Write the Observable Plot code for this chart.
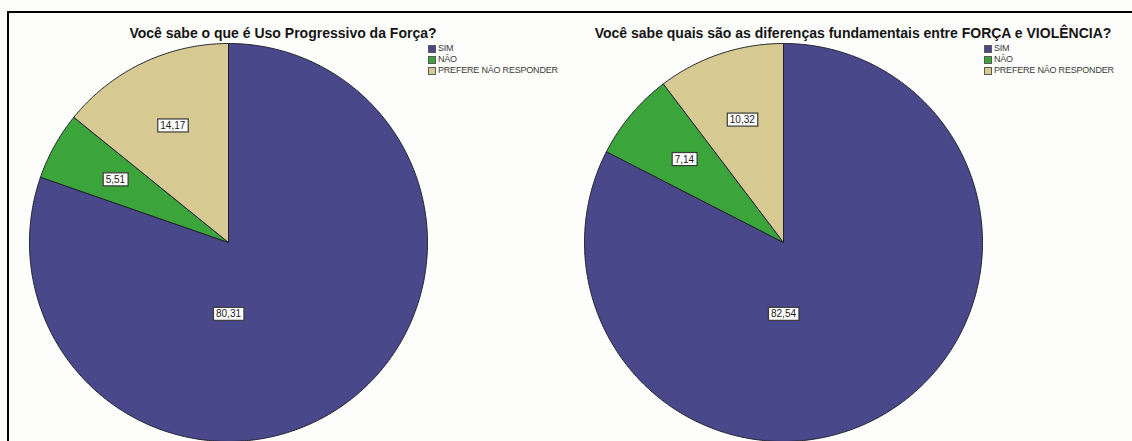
<!DOCTYPE html>
<html><head><meta charset="utf-8">
<script src="https://cdn.jsdelivr.net/npm/d3@7"></script>
<script src="https://cdn.jsdelivr.net/npm/@observablehq/plot@0.6"></script>
<style>
html,body{margin:0;padding:0;background:#fdfdfb;overflow:hidden;}
#wrap{position:relative;width:1132px;height:441px;overflow:hidden;font-family:"Liberation Sans",Arial,sans-serif;background:#fdfdfb;}
#frame{position:absolute;left:7px;top:11px;width:1200px;height:500px;border-left:2px solid #000;border-top:2px solid #000;pointer-events:none;}
#chart{position:absolute;left:0;top:0;}
.title{position:absolute;top:25px;font-weight:bold;font-size:14px;color:#151515;white-space:nowrap;transform:translateX(-50%);}
.legend{position:absolute;top:43px;font-size:9px;color:#3a3a3a;line-height:11px;letter-spacing:-0.2px;}
.legend .row{display:flex;align-items:center;height:11px;}
.legend .sw{width:8px;height:8px;border:1px solid #5a5a5a;margin-right:2px;box-sizing:border-box;}
</style>
</head><body>
<div id="wrap"><div id="chart"></div><div id="frame"></div></div>
<script>
// ---- data ----
const categories = ["SIM", "NÃO", "PREFERE NÃO RESPONDER"];
const questions = [
  "Você sabe o que é Uso Progressivo da Força?",
  "Você sabe quais são as diferenças fundamentais entre FORÇA e VIOLÊNCIA?"
];
const valuesQ1 = [80.31, 5.51, 14.17];
const valuesQ2 = [82.54, 7.14, 10.32];
const colors = ["#48488a", "#3ba53b", "#d6ca92"];

// ---- layout constants ----
const W = 1132, H = 441;
const R = 199;                     // pie radius in pixels
const CX0 = 228, CY = 242;         // first pie centre in pixels
const PIE_GAP = 555;               // distance between pie centres in pixels
const titleCenters = [283, 853];
const legendLefts = [428, 984];

const series = [valuesQ1, valuesQ2];
const offset = PIE_GAP / R;        // in x data units

// build slice polygons from the values
const slicePts = [];
const labels = [];
series.forEach((vals, qi) => {
  const total = d3.sum(vals);
  let acc = 0;
  const maxIdx = d3.maxIndex(vals);
  vals.forEach((v, ci) => {
    const a0 = acc / total * 2 * Math.PI;
    acc += v;
    const a1 = acc / total * 2 * Math.PI;
    const key = qi + "-" + ci;
    const ox = qi * offset;
    slicePts.push({key, cat: categories[ci], x: ox, y: 0});
    const n = Math.max(2, Math.ceil((a1 - a0) / (Math.PI / 360)));
    for (let k = 0; k <= n; k++) {
      const a = a0 + (a1 - a0) * k / n;
      slicePts.push({key, cat: categories[ci], x: ox + Math.sin(a), y: Math.cos(a)});
    }
    slicePts.push({key, cat: categories[ci], x: ox, y: 0});
    // label position
    let am = (a0 + a1) / 2, r = 0.65;
    if (ci === maxIdx) { am = Math.PI; r = 0.36; }
    labels.push({x: ox + r * Math.sin(am), y: r * Math.cos(am), text: v.toFixed(2).replace(".", ",")});
  });
});

const plot = Plot.plot({
  width: W, height: H,
  marginTop: 0, marginBottom: 0, marginLeft: 0, marginRight: 0,
  x: {domain: [-CX0 / R, (W - CX0) / R], axis: null},
  y: {domain: [-(H - CY) / R, CY / R], axis: null},
  color: {domain: categories, range: colors},
  style: {background: "transparent", overflow: "hidden"},
  marks: [
    Plot.line(slicePts, {x: "x", y: "y", z: "key", fill: "cat", stroke: "#22222e", strokeWidth: 1, curve: "linear"}),
    Plot.text(labels, {x: "x", y: "y", text: "text", fontSize: 10, fill: "#1a1a1a", fontFamily: "Liberation Sans, Arial, sans-serif", className: "vlabel"})
  ]
});
document.getElementById("chart").appendChild(plot);

// boxes behind value labels
plot.querySelectorAll(".vlabel text").forEach(t => {
  const b = t.getBBox();
  const rect = document.createElementNS("http://www.w3.org/2000/svg", "rect");
  rect.setAttribute("x", b.x - 2.5);
  rect.setAttribute("y", b.y - 1);
  rect.setAttribute("width", b.width + 5);
  rect.setAttribute("height", b.height + 2);
  rect.setAttribute("fill", "#ffffff");
  rect.setAttribute("stroke", "#3a3a3a");
  rect.setAttribute("stroke-width", "1.2");
  const tr = t.getAttribute("transform");
  if (tr) rect.setAttribute("transform", tr);
  t.parentNode.insertBefore(rect, t);
});

// titles and legends
const wrap = document.getElementById("wrap");
questions.forEach((q, i) => {
  const d = document.createElement("div");
  d.className = "title";
  d.style.left = titleCenters[i] + "px";
  d.textContent = q;
  wrap.appendChild(d);
  const lg = document.createElement("div");
  lg.className = "legend";
  lg.style.left = legendLefts[i] + "px";
  categories.forEach((c, ci) => {
    const row = document.createElement("div");
    row.className = "row";
    const sw = document.createElement("div");
    sw.className = "sw";
    sw.style.background = colors[ci];
    const tx = document.createElement("span");
    tx.textContent = c;
    row.appendChild(sw); row.appendChild(tx);
    lg.appendChild(row);
  });
  wrap.appendChild(lg);
});
</script>
</body></html>
